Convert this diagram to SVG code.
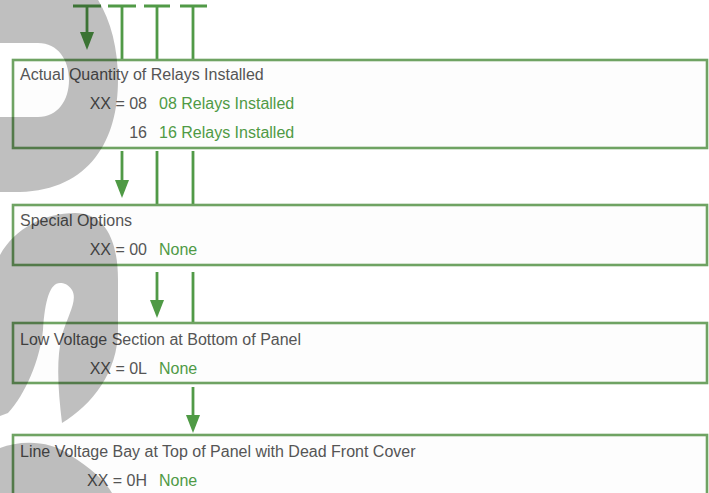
<svg xmlns="http://www.w3.org/2000/svg" width="709" height="493" viewBox="0 0 709 493">
<defs>
<style>
.box{fill:#fdfdfd;stroke:#6fa363;stroke-width:2.6}
.lbl{font-family:"Liberation Sans",Arial,sans-serif;font-size:16px;fill:#555555}
.val{font-family:"Liberation Sans",Arial,sans-serif;font-size:16px;fill:#4f9a45}
.ln{stroke:#519a47;stroke-width:2.8;fill:none}
.hd{fill:#4f9a45}
.wm{fill:#000000;fill-opacity:0.25}
</style>
</defs>
<rect width="709" height="493" fill="#ffffff"/>
<g id="connectors">
<path class="ln" d="M73,6H101M108,6H136M144,6H170M180,6H207"/>
<path class="ln" d="M87,6V33M122,6V60M157,6V60M193,6V60"/>
<path class="hd" d="M80,32H94L87,50Z"/>
<path class="ln" d="M122,151V181M157,151V205M193,151V205"/>
<path class="hd" d="M115,180H129L122,198Z"/>
<path class="ln" d="M157,272V301M193,272V323"/>
<path class="hd" d="M150,300H164L157,318Z"/>
<path class="ln" d="M193,387V416"/>
<path class="hd" d="M186,415H200L193,433Z"/>
</g>
<g id="node1">
<rect class="box" x="13" y="60" width="694" height="88"/>
<text class="lbl" x="20" y="80">Actual Quantity of Relays Installed</text>
<text class="lbl" x="147" y="109" text-anchor="end">XX = 08</text>
<text class="val" x="159" y="109">08 Relays Installed</text>
<text class="lbl" x="147" y="138" text-anchor="end">16</text>
<text class="val" x="159" y="138">16 Relays Installed</text>
</g>
<g id="node2">
<rect class="box" x="13" y="205" width="694" height="60"/>
<text class="lbl" x="20" y="226">Special Options</text>
<text class="lbl" x="147" y="255" text-anchor="end">XX = 00</text>
<text class="val" x="159" y="255">None</text>
</g>
<g id="node3">
<rect class="box" x="13" y="323" width="694" height="60"/>
<text class="lbl" x="20" y="345">Low Voltage Section at Bottom of Panel</text>
<text class="lbl" x="147" y="374" text-anchor="end">XX = 0L</text>
<text class="val" x="159" y="374">None</text>
</g>
<g id="node4">
<rect class="box" x="13" y="435" width="694" height="70"/>
<text class="lbl" x="20" y="457">Line Voltage Bay at Top of Panel with Dead Front Cover</text>
<text class="lbl" x="147" y="486" text-anchor="end">XX = 0H</text>
<text class="val" x="159" y="486">None</text>
</g>
<g id="watermark">
<path class="wm" fill-rule="evenodd" d="M0,-30L70,-30C100,-10 118,30 118,80C118,140 90,190 20,192L0,192Z M0,43L38,43C58,43 69,60 69,80C69,100 58,117 38,117L0,117Z"/>
<path class="wm" d="M0,255C15,228 45,213 75,213C105,213 118,240 118,280L118,330C118,372 92,405 62,423C58,390 56,360 62,335C68,315 78,300 72,290C68,284 64,283 60,283C50,283 45,300 43,330C40,360 25,395 8,413L0,416Z"/>
<path class="wm" d="M0,448C20,440 50,440 70,455C90,468 105,480 112,493L0,493Z"/>
</g>
</svg>
